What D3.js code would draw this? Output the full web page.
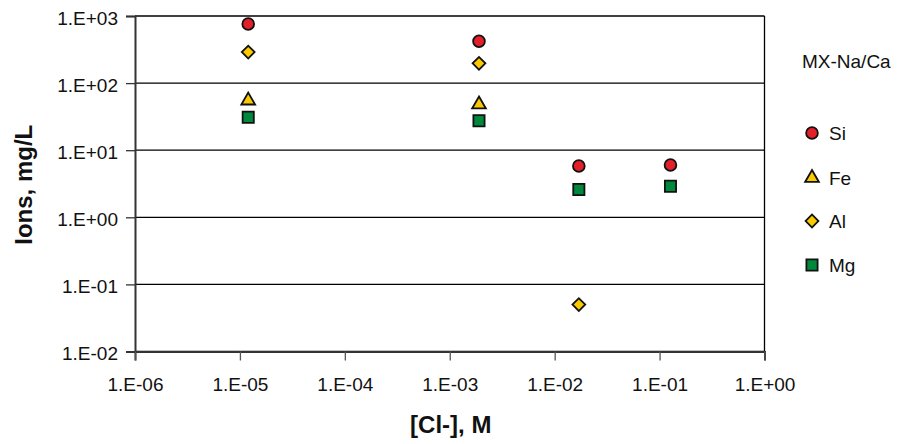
<!DOCTYPE html>
<html>
<head>
<meta charset="utf-8">
<script src="https://cdn.jsdelivr.net/npm/d3@7"></script>
<style>
  body { margin: 0; background: #fff; }
  text { font-family: "Liberation Sans", Arial, sans-serif; }
</style>
</head>
<body>
<div id="vis-container"></div>
<script>
// chart size
const width = 899;
const height = 444;
const margin = { left: 135, right: 135, top: 16, bottom: 93 };

// data
const clConc = [1.2e-5, 1.9e-3, 1.7e-2, 1.27e-1];
const siValues = [760, 420, 5.8, 6.0];
const feValues = [55, 48, null, null];
const alValues = [290, 197, 0.05, null];
const mgValues = [31, 27.5, 2.6, 2.9];

const xTicks = [1e-6, 1e-5, 1e-4, 1e-3, 1e-2, 1e-1, 1e0];
const xTickLabels = ["1.E-06", "1.E-05", "1.E-04", "1.E-03", "1.E-02", "1.E-01", "1.E+00"];
const yTicks = [1e-2, 1e-1, 1e0, 1e1, 1e2, 1e3];
const yTickLabels = ["1.E-02", "1.E-01", "1.E+00", "1.E+01", "1.E+02", "1.E+03"];

const series = [
  { name: "Si", values: siValues, symbol: d3.symbolCircle, size: 108, rot: 0, fill: "#e3202a" },
  { name: "Fe", values: feValues, symbol: d3.symbolTriangle, size: 82, rot: 0, fill: "#fbc900" },
  { name: "Al", values: alValues, symbol: d3.symbolSquare, size: 82, rot: 45, fill: "#fbc900" },
  { name: "Mg", values: mgValues, symbol: d3.symbolSquare, size: 125, rot: 0, fill: "#00893d" }
];

const svg = d3.select("#vis-container")
  .append("svg")
  .attr("width", width)
  .attr("height", height);

const xScale = d3.scaleLog()
  .domain([1e-6, 1])
  .range([margin.left, width - margin.right + 0.5]);

const yScale = d3.scaleLog()
  .domain([1e-2, 1e3])
  .range([height - margin.bottom + 0.5, margin.top]);

// horizontal gridlines
svg.append("g")
  .selectAll("line")
  .data(yTicks)
  .join("line")
  .attr("x1", margin.left)
  .attr("x2", xScale(1))
  .attr("y1", d => yScale(d))
  .attr("y2", d => yScale(d))
  .attr("stroke", "#000")
  .attr("stroke-width", 1.3);

// right border
svg.append("line")
  .attr("x1", xScale(1)).attr("x2", xScale(1))
  .attr("y1", yScale(1e3)).attr("y2", yScale(1e-2))
  .attr("stroke", "#000")
  .attr("stroke-width", 1.3);

// y axis
const yAxis = svg.append("g")
  .attr("transform", `translate(${margin.left},0)`)
  .call(d3.axisLeft(yScale)
    .tickValues(yTicks)
    .tickFormat((d, i) => yTickLabels[i])
    .tickSize(9)
    .tickPadding(8));
yAxis.select(".domain").attr("stroke", "#333").attr("stroke-width", 2);
yAxis.selectAll(".tick line").attr("stroke", "#333").attr("stroke-width", 1.3);
yAxis.selectAll("text")
  .attr("font-size", "19px")
  .attr("dy", "0.44em")
  .attr("fill", "#111")
  .style("font-family", "'Liberation Sans', Arial, sans-serif");

// x axis
const xAxis = svg.append("g")
  .attr("transform", `translate(0,${yScale(1e-2)})`)
  .call(d3.axisBottom(xScale)
    .tickValues(xTicks)
    .tickFormat((d, i) => xTickLabels[i])
    .tickSize(9)
    .tickPadding(17));
xAxis.select(".domain").attr("stroke", "#333").attr("stroke-width", 2);
xAxis.selectAll(".tick line").attr("stroke", "#555").attr("stroke-width", 1.3);
xAxis.selectAll("text")
  .attr("font-size", "19px")
  .attr("fill", "#111")
  .style("font-family", "'Liberation Sans', Arial, sans-serif");

// axis titles
svg.append("text")
  .attr("x", (xScale(1e-6) + xScale(1)) / 2 + 1)
  .attr("y", 433)
  .attr("text-anchor", "middle")
  .attr("font-size", "24px")
  .attr("font-weight", "bold")
  .attr("fill", "#111")
  .text("[Cl-], M");

svg.append("text")
  .attr("transform", `translate(32,${(yScale(1e3) + yScale(1e-2)) / 2 + 1}) rotate(-90)`)
  .attr("text-anchor", "middle")
  .attr("font-size", "24px")
  .attr("font-weight", "bold")
  .attr("fill", "#111")
  .text("Ions, mg/L");

// markers
series.forEach(s => {
  const pts = clConc.map((c, i) => ({ x: c, y: s.values[i] })).filter(d => d.y != null);
  svg.append("g")
    .selectAll("path")
    .data(pts)
    .join("path")
    .attr("transform", d => `translate(${xScale(d.x)},${yScale(d.y)}) rotate(${s.rot})`)
    .attr("d", d3.symbol().type(s.symbol).size(s.size))
    .attr("fill", s.fill)
    .attr("stroke", "#111")
    .attr("stroke-width", 1.8);
});

// legend
const legend = svg.append("g");
legend.append("text")
  .attr("x", 802)
  .attr("y", 68)
  .attr("font-size", "19px")
  .attr("fill", "#111")
  .text("MX-Na/Ca");

const legendY = [133, 178, 221, 265];
series.forEach((s, i) => {
  legend.append("path")
    .attr("transform", `translate(812,${legendY[i]}) rotate(${s.rot})`)
    .attr("d", d3.symbol().type(s.symbol).size(s.size))
    .attr("fill", s.fill)
    .attr("stroke", "#111")
    .attr("stroke-width", 1.8);
  legend.append("text")
    .attr("x", 829)
    .attr("y", legendY[i] + 7)
    .attr("font-size", "19px")
    .attr("fill", "#111")
    .text(s.name);
});
</script>
</body>
</html>
